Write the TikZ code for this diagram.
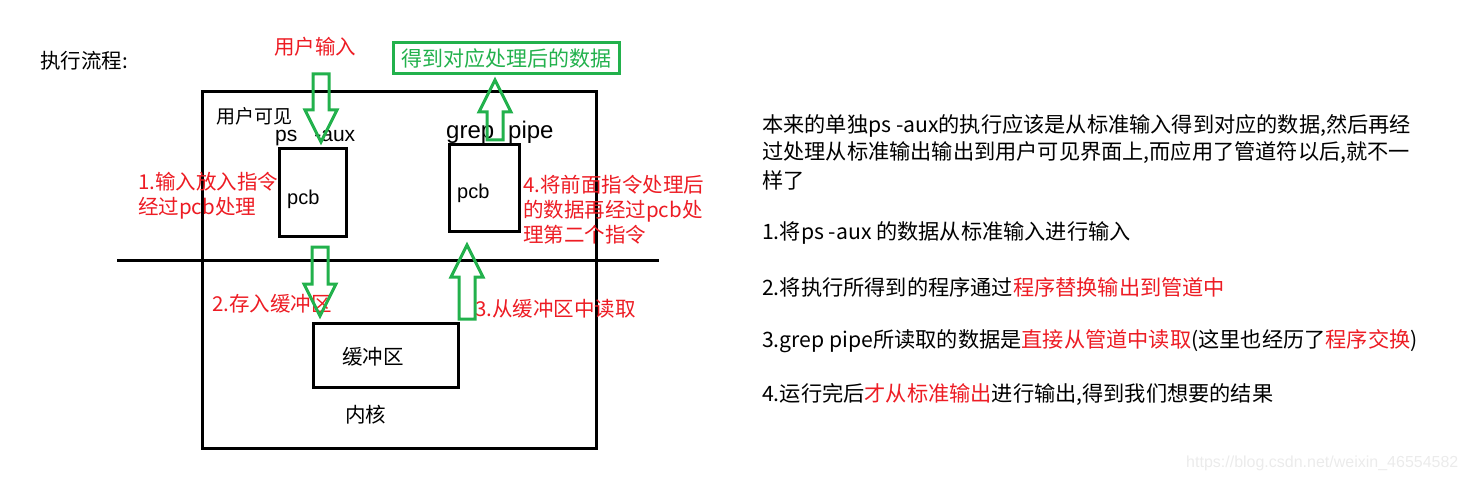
\documentclass[tikz,border=0pt]{standalone}
\usepackage{fontspec}
\setmainfont{Liberation Sans}
\newfontfamily\cjk{Noto Sans CJK SC}
\usetikzlibrary{positioning}
\usetikzlibrary{calc}
\definecolor{paintred}{RGB}{237,28,36}
\definecolor{paintgreen}{RGB}{34,177,76}
\tikzstyle{frame} = [line width=3pt, draw=black]
\tikzstyle{pcbbox} = [rectangle, line width=3pt, draw=black, inner sep=0pt]
\tikzstyle{hollow} = [line width=3pt, draw=paintgreen, line join=miter]
\tikzstyle{plain} = [font=\cjk\fontsize{20.5}{25}\selectfont, inner sep=0pt, anchor=west]
\tikzstyle{redlabel} = [plain, text=paintred, align=left]
\tikzstyle{latin} = [font=\fontsize{21}{25}\selectfont, inner sep=0pt, anchor=west]
\tikzstyle{note} = [font=\cjk\fontsize{21.2}{25}\selectfont, inner sep=0pt, anchor=west]
\newcommand{\headlen}{32}
\newcommand{\headhalf}{16}
\newcommand{\shafthalf}{8}

\begin{document}
\begin{tikzpicture}[x=1pt,y=-1pt]

  \useasboundingbox (0,0) rectangle (1466,481);

  % Title
  \node [plain] (flowTitle) at (40,61) {执行流程:};

  % Kernel frame and user/kernel boundary
  \coordinate (frameTop) at (202,92);
  \coordinate (frameBottom) at (596,448);
  \draw [frame] (frameTop) rectangle (frameBottom);
  \coordinate (lineLeft) at (117,260);
  \coordinate (lineRight) at (659,260);
  \draw [frame] (lineLeft) -- (lineRight);

  \node [plain, font=\cjk\fontsize{19}{25}\selectfont] (userSide) at (216,116) {用户可见};
  \node [plain] (kernelSide) at (345,415) {内核};

  % ps -aux
  \node [latin] (psCmd) at (275,138) {ps\hspace{17pt}-aux};
  \node [pcbbox, minimum width=67, minimum height=87] (leftPcb) at (312.5,192.5) {};
  \node [latin, font=\fontsize{20}{24}\selectfont] (leftPcbText) at (287,199) {pcb};

  % grep pipe
  \node [latin, font=\fontsize{24}{28}\selectfont] (grepCmd) at (446,132) {grep\hspace{14pt}pipe};
  \node [pcbbox, minimum width=70, minimum height=86] (rightPcb) at (484,188) {};
  \node [latin, font=\fontsize{20}{24}\selectfont] (rightPcbText) at (457,193) {pcb};

  % Buffer
  \node [pcbbox, minimum width=145, minimum height=64] (bufferBox) at (385.5,355) {};
  \node [plain] (bufferText) at (342,357) {缓冲区};

  % Input and result
  \node [plain, text=paintred] (userInput) at (274,47) {用户输入};
  \node [plain, font=\cjk\fontsize{21}{25}\selectfont, text=paintgreen, anchor=center, draw=paintgreen, line width=3pt,
         minimum width=226, minimum height=31] (resultBox) at (506,58.5) {得到对应处理后的数据};

  % Red step labels
  \node [redlabel] (stepOne) at (138,195.5) {1.输入放入指令\\经过pcb处理};
  \node [redlabel] (stepTwo) at (212,304) {2.存入缓冲区};
  \node [redlabel] (stepThree) at (475,309) {3.从缓冲区中读取};
  \node [redlabel] (stepFour) at (523,210) {4.将前面指令处理后\\的数据再经过pcb处\\理第二个指令};

  % Hollow arrows
  \coordinate (inTip) at (321,142);
  \draw [hollow] (inTip) -- ++(-\headhalf,-\headlen) -- ++(\shafthalf,0) -- ++(0,-36)
    -- ++(2*\shafthalf,0) -- ++(0,36) -- ++(\shafthalf,0) -- cycle;
  \coordinate (outTip) at (495,80);
  \draw [hollow] (outTip) -- ++(-\headhalf,\headlen) -- ++(\shafthalf,0) -- ++(0,28)
    -- ++(2*\shafthalf,0) -- ++(0,-28) -- ++(\shafthalf,0) -- cycle;
  \coordinate (storeTip) at (320,316);
  \draw [hollow] (storeTip) -- ++(-\headhalf,-\headlen) -- ++(\shafthalf,0) -- ++(0,-37)
    -- ++(2*\shafthalf,0) -- ++(0,37) -- ++(\shafthalf,0) -- cycle;
  \coordinate (readTip) at (467,245);
  \draw [hollow] (readTip) -- ++(-\headhalf,\headlen) -- ++(\shafthalf,0) -- ++(0,42)
    -- ++(2*\shafthalf,0) -- ++(0,-42) -- ++(\shafthalf,0) -- cycle;

  % Explanation
  \node [note] (noteA) at (762,126) {本来的单独ps -aux的执行应该是从标准输入得到对应的数据,然后再经};
  \node [note] (noteB) at (762,153) {过处理从标准输出输出到用户可见界面上,而应用了管道符以后,就不一};
  \node [note] (noteC) at (762,180) {样了};
  \node [note] (noteOne) at (762,233) {1.将ps -aux 的数据从标准输入进行输入};
  \node [note] (noteTwo) at (762,287) {2.将执行所得到的程序通过\textcolor{paintred}{程序替换输出到管道中}};
  \node [note] (noteThree) at (762,341) {3.grep pipe所读取的数据是\textcolor{paintred}{直接从管道中读取}(这里也经历了\textcolor{paintred}{程序交换})};
  \node [note] (noteFour) at (762,395) {4.运行完后\textcolor{paintred}{才从标准输出}进行输出,得到我们想要的结果};

  % Watermark
  \node [latin, text=black!8, font=\fontsize{16}{18}\selectfont] (mark) at (1186,463) {https://blog.csdn.net/weixin\_46554582};

\end{tikzpicture}
\end{document}
